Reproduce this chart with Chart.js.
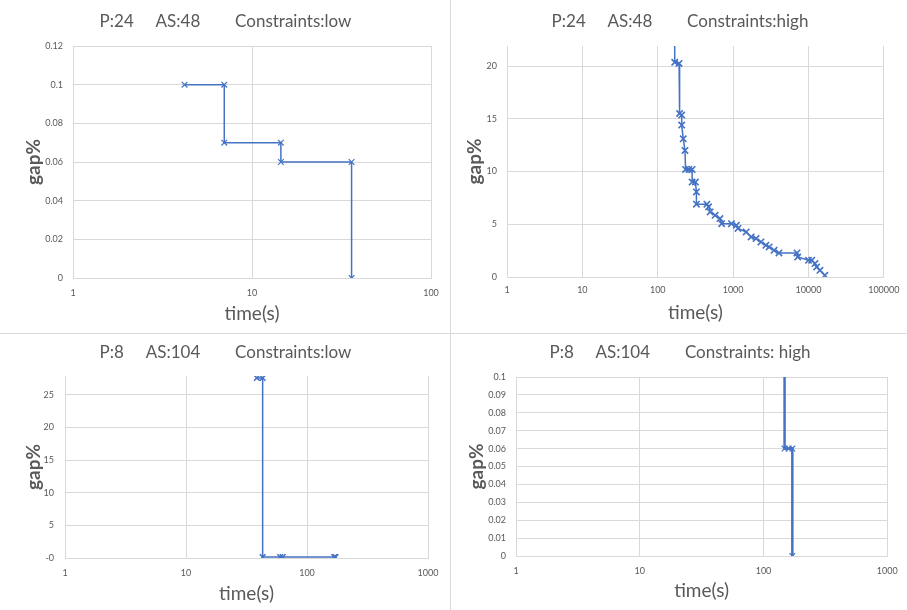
<!DOCTYPE html>
<html>
<head>
<meta charset="utf-8">
<script src="https://cdn.jsdelivr.net/npm/chart.js@4.4.1/dist/chart.umd.min.js"></script>
<style>
  html, body { margin: 0; padding: 0; background: #fff; }
  body { width: 907px; height: 610px; position: relative; overflow: hidden; }
  .panel { position: absolute; }
  .vline { position: absolute; left: 450px; top: 0; width: 1px; height: 610px; background: #d9d9d9; }
  .hline { position: absolute; left: 0; top: 333px; width: 907px; height: 1px; background: #d9d9d9; }
</style>
</head>
<body>
<div class="panel" style="left:0;top:0"><canvas id="p1" width="451" height="333"></canvas></div>
<div class="panel" style="left:453px;top:0"><canvas id="p2" width="454" height="333"></canvas></div>
<div class="panel" style="left:0;top:334px"><canvas id="p3" width="451" height="276"></canvas></div>
<div class="panel" style="left:453px;top:334px"><canvas id="p4" width="454" height="276"></canvas></div>
<div class="vline"></div>
<div class="hline"></div>
<script>
// P:24 AS:48, constraints low
var p1Time = [4.2, 7, 7, 14.5, 14.5, 36, 36];
var p1Gap = [0.1, 0.1, 0.07, 0.07, 0.06, 0.06, 0];

// P:24 AS:48, constraints high (first point starts above the visible range)
var p2Time = [168, 168, 192, 195, 208, 208, 218, 230, 234, 259, 286, 286, 316, 326, 326, 449, 472, 496, 577, 670,
              705, 951, 1105, 1161, 1492, 1734, 2014, 2342, 2721, 3008, 3494, 4060, 7040, 7190, 10000, 11050, 12200, 12840, 14200, 16500];
var p2Gap = [30, 20.35, 20.25, 15.5, 15.35, 14.4, 13.1, 12.0, 10.2, 10.2, 10.2, 9.0, 9.0, 8.07, 6.9, 6.9, 6.65, 6.17, 5.85, 5.54,
             5.06, 5.06, 4.9, 4.6, 4.27, 3.8, 3.64, 3.32, 3.0, 2.85, 2.53, 2.28, 2.28, 1.9, 1.58, 1.58, 1.27, 0.95, 0.63, 0.16];

// P:8 AS:104, constraints low
var p3Time = [38.5, 43, 43, 60, 63, 168, 172];
var p3Gap = [27.6, 27.6, 0.15, 0.15, 0.15, 0.15, 0.15];

// P:8 AS:104, constraints high
var p4Time = [148, 148, 160, 171, 171];
var p4Gap = [0.3, 0.06, 0.06, 0.06, 0];

var titles = [
    "P:24     AS:48        Constraints:low",
    "P:24     AS:48        Constraints:high",
    "P:8     AS:104        Constraints:low",
    "P:8     AS:104        Constraints: high"
];
var xTickValues = [
    [1, 10, 100],
    [1, 10, 100, 1000, 10000, 100000],
    [1, 10, 100, 1000],
    [1, 10, 100, 1000]
];

var BLUE = '#4472C4';
var GRID = '#d9d9d9';
var TEXT = '#595959';
var FONT = 'Lato, "Open Sans", sans-serif';

function toPoints(xs, ys) {
    var pts = [];
    for (var i = 0; i < xs.length; i++) pts.push({x: xs[i], y: ys[i]});
    return pts;
}

function makePanel(id, title, xs, ys, xTicks, o) {
    var ctx = document.getElementById(id).getContext('2d');
    return new Chart(ctx, {
        type: 'line',
        data: {
            datasets: [{
                data: toPoints(xs, ys),
                borderColor: BLUE,
                backgroundColor: BLUE,
                borderWidth: o.lineW,
                pointStyle: 'crossRot',
                pointRadius: o.markR,
                pointBorderWidth: o.markW,
                pointBorderColor: BLUE,
                fill: false,
                tension: 0
            }]
        },
        options: {
            responsive: false,
            animation: false,
            layout: { padding: 0 },
            plugins: {
                legend: { display: false },
                tooltip: { enabled: false },
                title: {
                    display: true,
                    text: title,
                    color: TEXT,
                    font: { family: FONT, size: 17, weight: 'normal', lineHeight: 1.2 },
                    padding: { top: o.titleTop, bottom: o.titleBottom }
                }
            },
            scales: {
                x: {
                    type: 'logarithmic',
                    min: xTicks[0],
                    max: xTicks[xTicks.length - 1],
                    afterBuildTicks: function(scale) {
                        scale.ticks = xTicks.map(function(v) { return {value: v}; });
                    },
                    afterFit: function(scale) { scale.height = o.xH; },
                    grid: { color: GRID, lineWidth: 1, drawTicks: false },
                    border: { color: GRID },
                    ticks: {
                        color: TEXT,
                        font: { family: FONT, size: 9 },
                        padding: o.xTickPad,
                        maxRotation: 0,
                        autoSkip: false,
                        callback: function(v) { return String(v); }
                    },
                    title: {
                        display: true,
                        text: 'time(s)',
                        color: TEXT,
                        font: { family: FONT, size: 19, lineHeight: 1.2 },
                        padding: { top: 0, bottom: o.xTitlePad }
                    }
                },
                y: {
                    type: 'linear',
                    min: 0,
                    max: o.yMax,
                    afterFit: function(scale) { scale.width = o.yW; },
                    grid: { color: GRID, lineWidth: 1, drawTicks: false },
                    border: { color: GRID },
                    ticks: {
                        stepSize: o.yStep,
                        includeBounds: false,
                        color: TEXT,
                        font: { family: FONT, size: 9 },
                        padding: o.yTickPad,
                        callback: function(v) {
                            if (v === 0) return o.zeroLabel;
                            return String(Math.round(v * 1000) / 1000);
                        }
                    },
                    title: {
                        display: true,
                        text: 'gap%',
                        color: TEXT,
                        font: { family: FONT, size: 19, weight: 'bold', lineHeight: 1.2 },
                        padding: { top: o.yTitlePad, bottom: 0 }
                    }
                },
                // empty right-hand box, keeps the title centred on the whole panel
                spacer: {
                    type: 'linear',
                    position: 'right',
                    display: true,
                    afterFit: function(scale) { scale.width = o.padRight; },
                    grid: { display: false, drawTicks: false },
                    border: { display: false },
                    ticks: { display: false }
                }
            }
        }
    });
}

makePanel('p1', titles[0], p1Time, p1Gap, xTickValues[0], {
    lineW: 1.5, markR: 4, markW: 1.2, padRight: 20, titleTop: 11, titleBottom: 14.6,
    xH: 55, xTickPad: 9.5, xTitlePad: 8, yW: 73, yTickPad: 10, yTitlePad: 22,
    yMax: 0.12, yStep: 0.02, zeroLabel: '0'
});
makePanel('p2', titles[1], p2Time, p2Gap, xTickValues[1], {
    lineW: 1.5, markR: 4.5, markW: 1.6, padRight: 16, titleTop: 11, titleBottom: 14.6,
    xH: 56, xTickPad: 7.5, xTitlePad: 9, yW: 54, yTickPad: 10, yTitlePad: 10,
    yMax: 21.9, yStep: 5, zeroLabel: '0'
});
makePanel('p3', titles[2], p3Time, p3Gap, xTickValues[2], {
    lineW: 1.5, markR: 4, markW: 1.6, padRight: 23, titleTop: 8.5, titleBottom: 13.1,
    xH: 52, xTickPad: 9.3, xTitlePad: 5, yW: 65, yTickPad: 11, yTitlePad: 22,
    yMax: 27.9, yStep: 5, zeroLabel: '-0'
});
makePanel('p4', titles[3], p4Time, p4Gap, xTickValues[3], {
    lineW: 2.5, markR: 4, markW: 1.2, padRight: 11, titleTop: 8.5, titleBottom: 14.1,
    xH: 54, xTickPad: 9.3, xTitlePad: 8, yW: 63, yTickPad: 10, yTitlePad: 12,
    yMax: 0.1, yStep: 0.01, zeroLabel: '0'
});
</script>
</body>
</html>
